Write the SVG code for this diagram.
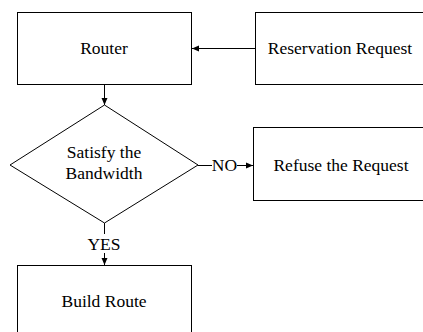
<svg xmlns="http://www.w3.org/2000/svg" width="423" height="332" viewBox="0 0 423 332">
<style>
.box{fill:#fff;stroke:#000;stroke-width:1}
.t{font-family:"Liberation Serif","Times New Roman",serif;font-size:17.5px;fill:#000}
.c{stroke:#000;stroke-width:1;fill:none}
</style>
<defs>
<marker id="ah" markerWidth="8" markerHeight="8" refX="7" refY="4" orient="auto" markerUnits="userSpaceOnUse">
<path d="M0,1 L7,4 L0,7 Z" fill="#000"/>
</marker>
</defs>
<rect width="423" height="332" fill="#fff"/>
<g id="router"><rect class="box" x="17.5" y="12.5" width="174" height="72"/><text class="t" x="104" y="54" text-anchor="middle">Router</text></g>
<g id="request"><rect class="box" x="255.5" y="12.5" width="172" height="72"/><text class="t" x="340" y="54" text-anchor="middle">Reservation Request</text></g>
<g id="decision"><polygon class="box" points="104.5,105 198,165 104.5,223 10,165"/><text class="t" x="104" y="158" text-anchor="middle">Satisfy the</text><text class="t" x="104" y="179" text-anchor="middle">Bandwidth</text></g>
<g id="refuse"><rect class="box" x="253.5" y="127.5" width="174" height="73"/><text class="t" x="341" y="171" text-anchor="middle">Refuse the Request</text></g>
<g id="build"><rect class="box" x="17.5" y="265.5" width="174" height="80"/><text class="t" x="104" y="307" text-anchor="middle">Build Route</text></g>
<g id="connectors">
<line class="c" x1="255" y1="48.5" x2="192" y2="48.5" marker-end="url(#ah)"/>
<line class="c" x1="104.5" y1="85" x2="104.5" y2="105" marker-end="url(#ah)"/>
<line class="c" x1="198" y1="165.5" x2="212" y2="165.5"/>
<line class="c" x1="237" y1="165.5" x2="253" y2="165.5" marker-end="url(#ah)"/>
<text class="t" x="224.5" y="171" text-anchor="middle">NO</text>
<line class="c" x1="104.5" y1="223" x2="104.5" y2="234"/>
<text class="t" x="104" y="250" text-anchor="middle">YES</text>
<line class="c" x1="104.5" y1="253" x2="104.5" y2="265" marker-end="url(#ah)"/>
</g>
</svg>
